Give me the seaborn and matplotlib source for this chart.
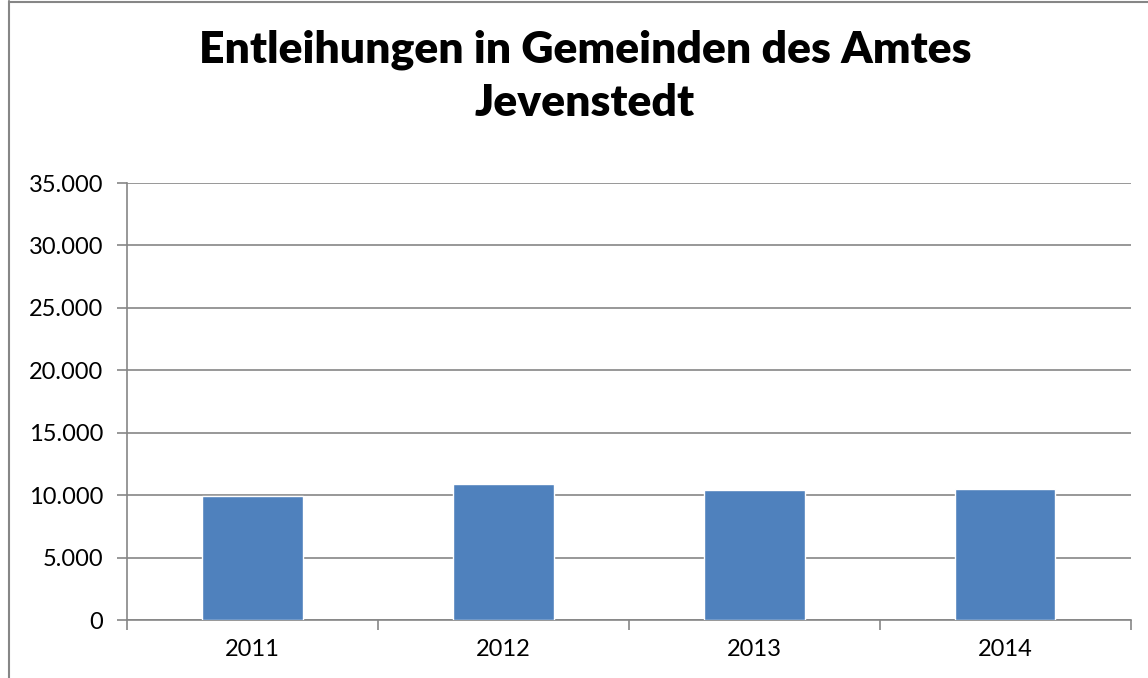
import matplotlib
matplotlib.use("Agg")
import matplotlib.pyplot as plt
import seaborn as sns
import pandas as pd
from matplotlib.ticker import FuncFormatter, MultipleLocator
from matplotlib.lines import Line2D

years = ["2011", "2012", "2013", "2014"]
values = [9900, 10880, 10450, 10500]
title = "Entleihungen in Gemeinden des Amtes\nJevenstedt"

sns.set_style("white")
plt.rcParams["font.family"] = ["Lato", "DejaVu Sans"]
plt.rcParams["text.color"] = "black"
plt.rcParams["xtick.color"] = "black"
plt.rcParams["ytick.color"] = "black"

df = pd.DataFrame({"year": years, "value": values})

fig = plt.figure(figsize=(11.48, 6.78), dpi=100)
ax = fig.add_axes([0.1106, 0.0855, 0.8744, 0.6445])

sns.barplot(data=df, x="year", y="value", color="#4F81BD", saturation=1,
            width=0.4, ax=ax, zorder=3)

ax.set_ylim(0, 35000)
ax.set_xlim(-0.5, 3.5)
ax.yaxis.set_major_locator(MultipleLocator(5000))
ax.yaxis.set_major_formatter(FuncFormatter(lambda v, p: f"{int(v):,}".replace(",", ".")))
ax.grid(axis="y", color="#868686", linewidth=1.2, zorder=0)
ax.set_axisbelow(True)
for s in ["top", "right"]:
    ax.spines[s].set_visible(False)
for s in ["left", "bottom"]:
    ax.spines[s].set_color("#868686")
    ax.spines[s].set_linewidth(1.2)
ax.set_xlabel("")
ax.set_ylabel("")

ax.set_xticks([-0.5, 0.5, 1.5, 2.5, 3.5], minor=False)
ax.set_xticklabels([])
ax.set_xticks([0, 1, 2, 3], minor=True)
ax.set_xticklabels(years, minor=True)
ax.tick_params(axis="x", which="major", length=7, color="#868686", width=1.2, direction="out", bottom=True)
ax.tick_params(axis="x", which="minor", length=0, labelsize=17, pad=14, labelcolor="black")
ax.tick_params(axis="y", length=7, color="#868686", width=1.2, direction="out", left=True,
               labelsize=17, pad=10, labelcolor="black")

fig.text(585 / 1148, 1 - 76 / 678, title, ha="center", va="center", fontsize=32, fontweight="heavy",
         linespacing=1.4, color="black")

fig.lines.append(Line2D([8.5 / 1148, 8.5 / 1148], [0, 1 - 1 / 678], transform=fig.transFigure,
                        color="#868686", linewidth=1.5))
fig.lines.append(Line2D([8.5 / 1148, 1], [1 - 1.5 / 678, 1 - 1.5 / 678], transform=fig.transFigure,
                        color="#868686", linewidth=1.5))

fig.savefig("out.png", dpi=100)
